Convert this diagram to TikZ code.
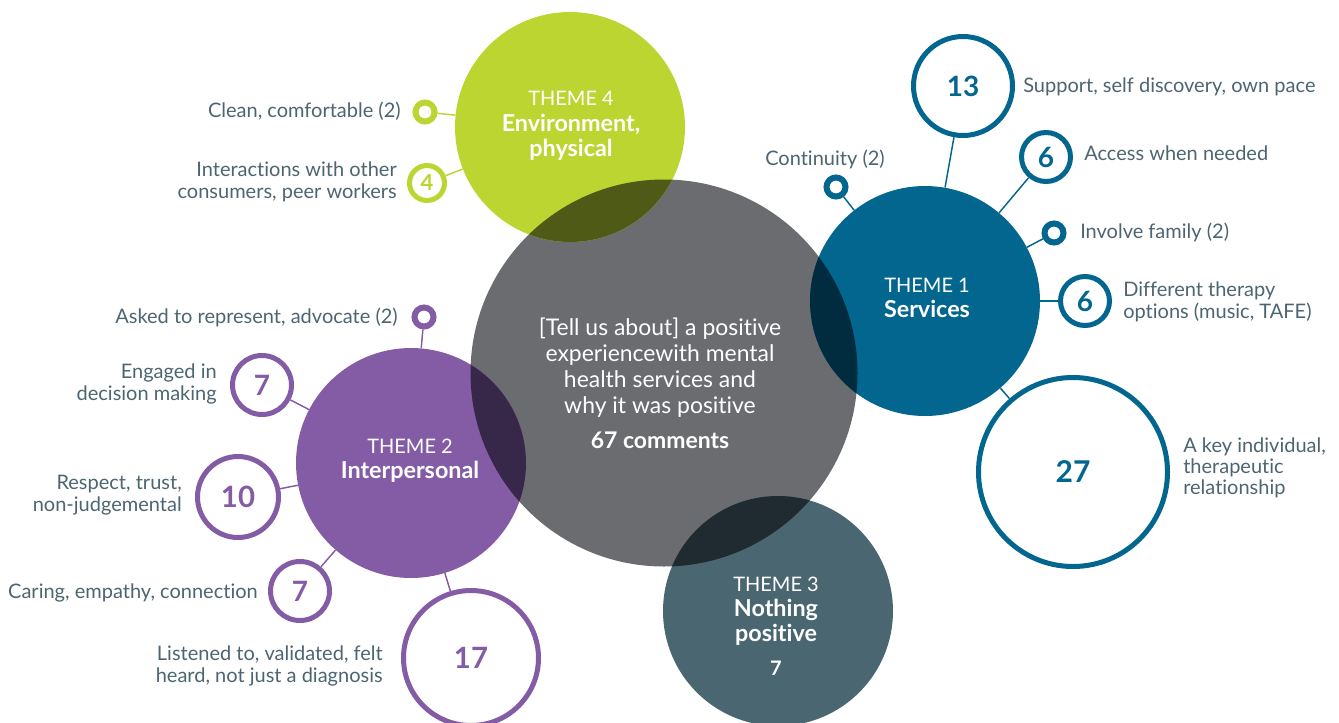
\documentclass[tikz,border=0pt]{standalone}
\usepackage{fontspec}
\setmainfont{Lato}[Ligatures=NoCommon]
\usetikzlibrary{positioning}

\definecolor{gbase}{HTML}{6B6C70}
\definecolor{tgreen}{HTML}{BCD531}
\definecolor{tblue}{HTML}{03668F}
\definecolor{tpurple}{HTML}{845CA6}
\definecolor{tslate}{HTML}{4A6670}
\definecolor{ogreen}{HTML}{4F5A16}
\definecolor{oblue}{HTML}{012B3F}
\definecolor{opurple}{HTML}{372749}
\definecolor{oslate}{HTML}{1F2B31}
\definecolor{labeltext}{HTML}{4D6571}

\def \ringWidth {3.75pt}
\def \themeSize {172.5pt}
\newcommand{\labelFont}{\fontsize{15}{16}\selectfont}
\newcommand{\themeFont}{\fontsize{15}{19}\selectfont}
\newcommand{\themeName}[1]{{\fontsize{17.5}{19}\selectfont\bfseries #1}}

\begin{document}
\begin{tikzpicture}[x=0.75pt, y=-0.75pt,
   bubble/.style={circle, inner sep=0pt, minimum size=#1},
   ring/.style={circle, draw=#1, fill=white, line width=\ringWidth, inner sep=0pt, text=#1},
   knob/.style={circle, draw=#1, fill=white, line width=4.5pt, inner sep=0pt, minimum size=14.25pt},
   num/.style={font=\bfseries\fontsize{#1}{#1}\selectfont},
   link/.style={draw=#1, line width=1.1pt},
   lbl/.style={text=labeltext, font=\labelFont, inner sep=0pt},
   themetext/.style={text=white, align=center, font=\themeFont, inner sep=0pt}]
         \useasboundingbox (0, 0) rectangle (1339, 722);

         % big circles
         \node[bubble=290.25pt, fill=gbase] (centre) at (664, 373) {};
         \node[bubble=\themeSize, fill=tgreen] (env) at (570, 127) {};
         \node[bubble=\themeSize, fill=tblue] (services) at (925, 301) {};
         \node[bubble=\themeSize, fill=tpurple] (interp) at (411, 463) {};
         \node[bubble=\themeSize, fill=tslate] (nothing) at (778, 611) {};

         % overlaps with the grey circle
         \begin{scope}
            \clip (centre.center) circle (193.5);
            \fill[ogreen] (env.center) circle (115);
            \fill[oblue] (services.center) circle (115);
            \fill[opurple] (interp.center) circle (115);
            \fill[oslate] (nothing.center) circle (115);
         \end{scope}

         % texts in the big circles
         \node[themetext, font=\fontsize{17.2}{19.5}\selectfont] (q) at (660, 383) {[Tell us about] a positive\\experiencewith mental\\health services and\\why it was positive\\[7pt]\textbf{67 comments}};
         \node[themetext] (t-env) at (571, 126) {THEME 4\\\themeName{Environment,}\\\themeName{physical}};
         \node[themetext] (t-services) at (927, 298) {THEME 1\\\themeName{Services}};
         \node[themetext] (t-interp) at (410, 461) {THEME 2\\\themeName{Interpersonal}};
         \node[themetext] (t-nothing) at (776, 626) {THEME 3\\\themeName{Nothing}\\\themeName{positive}\\[6pt]\textbf{7}};

         % theme 4
         \node[knob=tgreen] (clean) at (425, 112) {};
         \node[ring=tgreen, minimum size=26.25pt, num=16.5] (peer) at (427, 183) {4};
         \draw[link=tgreen] (env) -- (clean);
         \draw[link=tgreen] (env) -- (peer);
         \node[lbl, anchor=east] (l-clean) at (401, 111) {Clean, comfortable (2)};
         \node[lbl, anchor=east, align=right] (l-peer) at (397, 182) {Interactions with other\\consumers, peer workers};

         % theme 1
         \node[ring=tblue, minimum size=74.25pt, num=21] (support) at (963, 86) {13};
         \node[ring=tblue, minimum size=36.75pt, num=21] (access) at (1046, 157) {6};
         \node[knob=tblue] (cont) at (836, 187) {};
         \node[knob=tblue] (family) at (1054, 233) {};
         \node[ring=tblue, minimum size=36.75pt, num=21] (therapy) at (1085, 301) {6};
         \node[ring=tblue, minimum size=141.75pt, num=22.5] (key) at (1073, 472) {27};
         \foreach \s in {support, access, cont, family, therapy, key}
            \draw[link=tblue] (services) -- (\s);
         \node[lbl, anchor=west] (l-support) at (1023, 87) {Support, self discovery, own pace};
         \node[lbl, anchor=west] (l-access) at (1084, 153) {Access when needed};
         \node[lbl] (l-cont) at (825, 159) {Continuity (2)};
         \node[lbl, anchor=west] (l-family) at (1080, 232) {Involve family (2)};
         \node[lbl, anchor=west, align=left] (l-therapy) at (1123, 302) {Different therapy\\options (music, TAFE)};
         \node[lbl, anchor=west, align=left] (l-key) at (1183, 468) {A key individual,\\therapeutic\\relationship};

         % theme 2
         \node[knob=tpurple] (asked) at (424, 317) {};
         \node[ring=tpurple, minimum size=44.25pt, num=21] (engaged) at (262, 385) {7};
         \node[ring=tpurple, minimum size=60.75pt, num=22] (respect) at (238, 497) {10};
         \node[ring=tpurple, minimum size=44.25pt, num=21] (caring) at (300, 591) {7};
         \node[ring=tpurple, minimum size=101.25pt, num=22] (listened) at (471, 658) {17};
         \foreach \s in {asked, engaged, respect, caring, listened}
            \draw[link=tpurple] (interp) -- (\s);
         \node[lbl, anchor=east] (l-asked) at (398, 317) {Asked to represent, advocate (2)};
         \node[lbl, anchor=east, align=right] (l-engaged) at (217, 384) {Engaged in\\decision making};
         \node[lbl, anchor=east, align=right] (l-respect) at (182, 495) {Respect, trust,\\non-judgemental};
         \node[lbl, anchor=east] (l-caring) at (258, 593) {Caring, empathy, connection};
         \node[lbl, anchor=east, align=right] (l-listened) at (383, 666) {Listened to, validated, felt\\heard, not just a diagnosis};
      \end{tikzpicture}
\end{document}
